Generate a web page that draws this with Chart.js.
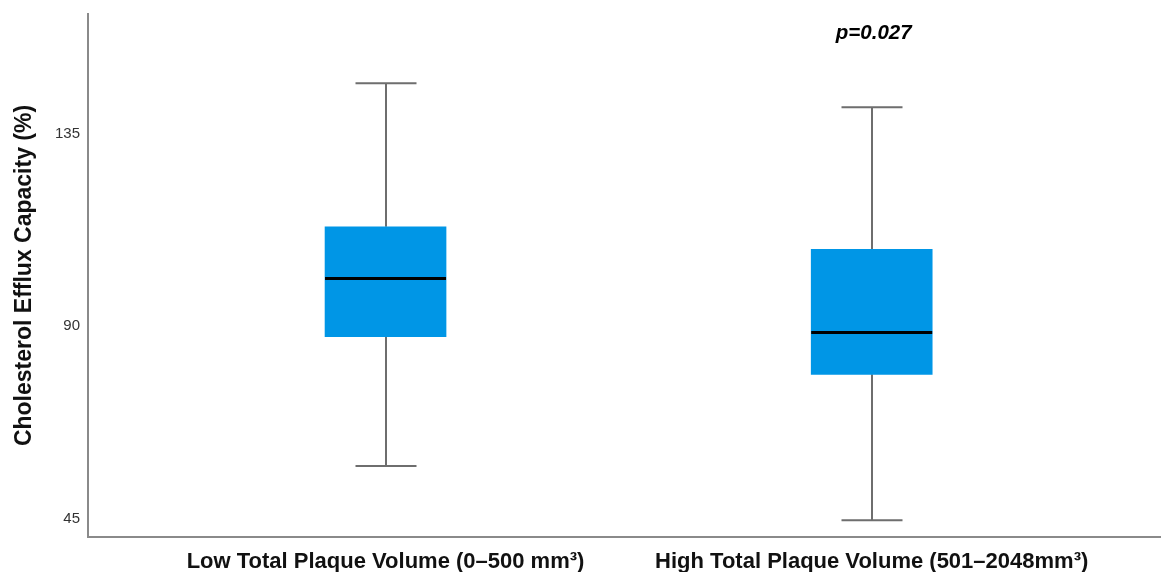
<!DOCTYPE html>
<html>
<head>
<meta charset="utf-8">
<script src="https://cdn.jsdelivr.net/npm/chart.js@4.4.1/dist/chart.umd.min.js"></script>
<style>
  html, body { margin: 0; padding: 0; background: #ffffff; }
  #wrap { width: 1161px; height: 572px; position: relative; }
</style>
</head>
<body>
<div id="wrap"><canvas id="c" width="1161" height="572"></canvas></div>
<script>
// ---- Data ----
const categories = ['Low Total Plaque Volume (0–500 mm³)', 'High Total Plaque Volume (501–2048mm³)'];
const positions = [1, 2];
const whiskerLow = [57.3, 44.6];
const q1 = [87.5, 78.7];
const median = [101.1, 88.5];
const q3 = [113.2, 107.9];
const whiskerHigh = [146.7, 141.1];
const yTicks = [45, 90, 135];
const pLabel = 'p=0.027';
const pLabelIndex = 1;

const boxData = positions.map((p, i) => ({ x: p, y: [q1[i], q3[i]] }));

const boxPlugin = {
  id: 'boxExtras',
  beforeDatasetsDraw(chart) {
    const { ctx, scales: { x, y } } = chart;
    ctx.save();
    ctx.strokeStyle = '#6e6e6e';
    ctx.lineWidth = 2;
    const capHalf = 30.5;
    positions.forEach((p, i) => {
      const px = Math.round(x.getPixelForValue(p));
      const yl = y.getPixelForValue(whiskerLow[i]);
      const y1 = y.getPixelForValue(q1[i]);
      const y3 = y.getPixelForValue(q3[i]);
      const yh = y.getPixelForValue(whiskerHigh[i]);
      ctx.beginPath();
      ctx.moveTo(px, yl); ctx.lineTo(px, y1);
      ctx.moveTo(px, y3); ctx.lineTo(px, yh);
      ctx.moveTo(px - capHalf, yl); ctx.lineTo(px + capHalf, yl);
      ctx.moveTo(px - capHalf, yh); ctx.lineTo(px + capHalf, yh);
      ctx.stroke();
    });
    ctx.restore();
  },
  afterDatasetsDraw(chart) {
    const { ctx, scales: { x, y }, chartArea } = chart;
    ctx.save();
    ctx.strokeStyle = '#000000';
    ctx.lineWidth = 3;
    const half = 60.5;
    positions.forEach((p, i) => {
      const px = x.getPixelForValue(p);
      const ym = y.getPixelForValue(median[i]);
      ctx.beginPath();
      ctx.moveTo(px - half, ym); ctx.lineTo(px + half, ym);
      ctx.stroke();
    });
    // p-value annotation
    ctx.fillStyle = '#000000';
    ctx.font = 'italic bold 20.5px "Liberation Sans", Arial, sans-serif';
    ctx.textAlign = 'center';
    ctx.textBaseline = 'middle';
    ctx.fillText(pLabel, x.getPixelForValue(positions[pLabelIndex]) + 2, chartArea.top + 19);
    ctx.restore();
  }
};

new Chart(document.getElementById('c'), {
  type: 'bar',
  data: {
    datasets: [{
      data: boxData,
      backgroundColor: '#0096e6',
      borderWidth: 0,
      barThickness: 121
    }]
  },
  plugins: [boxPlugin],
  options: {
    responsive: false,
    animation: false,
    layout: { padding: { top: 14, right: 1, left: 0, bottom: 0 } },
    plugins: { legend: { display: false }, tooltip: { enabled: false } },
    scales: {
      x: {
        type: 'linear',
        offset: false,
        min: 0.388,
        max: 2.593,
        grid: { display: false, drawTicks: false, offset: false },
        border: { display: true, color: '#8a8a8a', width: 2 },
        afterBuildTicks: (s) => { s.ticks = positions.map(v => ({ value: v })); },
        afterFit: (s) => { s.height = 35; s.paddingLeft = 0; s.paddingRight = 0; },
        ticks: {
          padding: 12,
          color: '#111111',
          font: { family: '"Liberation Sans", Arial, sans-serif', size: 22, weight: 'bold' },
          autoSkip: false,
          maxRotation: 0,
          callback: (v) => { const i = positions.indexOf(v); return i >= 0 ? categories[i] : ''; }
        }
      },
      y: {
        min: 40.7,
        max: 162.9,
        grid: { display: false, drawTicks: false },
        border: { display: true, color: '#8a8a8a', width: 2 },
        afterBuildTicks: (s) => { s.ticks = yTicks.map(v => ({ value: v })); },
        afterFit: (s) => { s.width = 88; s.paddingTop = 0; s.paddingBottom = 0; },
        ticks: {
          padding: 8,
          color: '#333333',
          font: { family: '"Liberation Sans", Arial, sans-serif', size: 15 }
        },
        title: {
          display: true,
          text: 'Cholesterol Efflux Capacity (%)',
          color: '#111111',
          padding: { top: 11, bottom: 0 },
          font: { family: '"Liberation Sans", Arial, sans-serif', size: 23, weight: 'bold' }
        }
      }
    }
  }
});
</script>
</body>
</html>
